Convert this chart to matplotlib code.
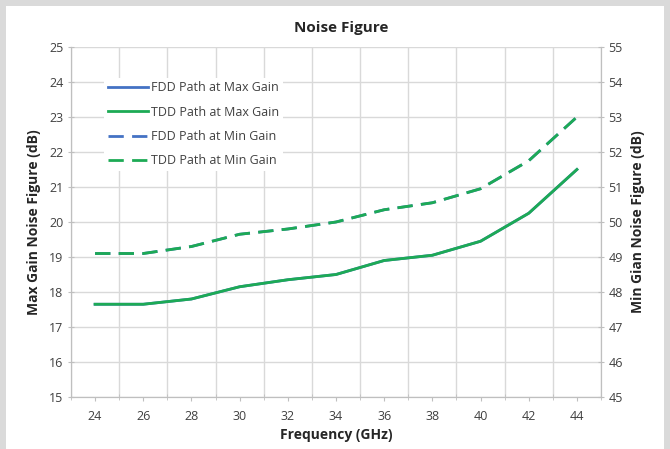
import matplotlib
matplotlib.use("Agg")
import matplotlib.pyplot as plt
from matplotlib.patches import Rectangle
import numpy as np

plt.rcParams['font.family'] = ['Open Sans', 'DejaVu Sans']

freqs = [24, 26, 28, 30, 32, 34, 36, 38, 40, 42, 44]
tdd_max = [17.65, 17.65, 17.8, 18.15, 18.35, 18.5, 18.9, 19.05, 19.45, 20.25, 21.5]
fdd_max = [17.65, 17.65, 17.8, 18.15, 18.35, 18.5, 18.9, 19.05, 19.45, 20.25, 21.5]
tdd_min = [49.1, 49.1, 49.3, 49.65, 49.8, 50.0, 50.35, 50.55, 50.95, 51.75, 53.0]
fdd_min = [49.1, 49.1, 49.3, 49.65, 49.8, 50.0, 50.35, 50.55, 50.95, 51.75, 53.0]

blue = '#4472C4'
green = '#1DAA55'
grid_c = '#D9D9D9'
txt = '#404040'

fig = plt.figure(figsize=(6.70, 4.49), dpi=100)
fig.patch.set_facecolor('#DADADA')
fig.add_artist(Rectangle((6/670, 0), 658/670, 1 - 6/449, transform=fig.transFigure,
                         facecolor='white', edgecolor='none', zorder=0))

ax = fig.add_axes([71/670, 1 - 397/449, 530/670, 350/449])
ax2 = ax.twinx()
x = np.arange(len(freqs))

dash = (0, (5.5, 3))
l1, = ax.plot(x, fdd_max, color=blue, lw=2, label='FDD Path at Max Gain', zorder=3)
l2, = ax.plot(x, tdd_max, color=green, lw=2, label='TDD Path at Max Gain', zorder=4)
l3, = ax2.plot(x, fdd_min, color=blue, lw=2, ls=dash, label='FDD Path at Min Gain', zorder=3)
l4, = ax2.plot(x, tdd_min, color=green, lw=2, ls=dash, label='TDD Path at Min Gain', zorder=4)

ax.set_xlim(-0.5, len(freqs) - 0.5)
ax.set_ylim(15, 25)
ax2.set_ylim(45, 55)
ax.set_yticks(range(15, 26))
ax2.set_yticks(range(45, 56))

ax.set_xticks(x)
ax.set_xticklabels([str(f) for f in freqs])
ax.set_xticks(np.arange(-0.5, len(freqs)), minor=True)
ax.tick_params(axis='x', which='major', length=3, color='#BFBFBF', labelsize=9, labelcolor=txt, pad=6)
ax.tick_params(axis='x', which='minor', length=4, color='#BFBFBF', direction='inout')
ax.tick_params(axis='y', length=4, color='#BFBFBF', labelsize=9, labelcolor=txt, direction='inout')
ax2.tick_params(axis='y', length=4, color='#BFBFBF', labelsize=9, labelcolor=txt, direction='inout')

ax.grid(True, which='major', axis='y', color=grid_c, lw=1)
ax.grid(True, which='minor', axis='x', color=grid_c, lw=1)
ax.set_axisbelow(True)

for a in (ax, ax2):
    for s in ['top']:
        a.spines[s].set_visible(False)
    for s in ['left', 'right', 'bottom']:
        a.spines[s].set_color('#BFBFBF')

ax.set_xlabel('Frequency (GHz)', fontsize=10, fontweight='bold', color='#262626', labelpad=4)
ax.set_ylabel('Max Gain Noise Figure (dB)', fontsize=10, fontweight='bold', color='#262626', labelpad=6)
ax2.set_ylabel('Min Gian Noise Figure (dB)', fontsize=10, fontweight='bold', color='#262626', labelpad=6)
fig.text(341/670, 1 - 28/449, 'Noise Figure', ha='center', va='center', fontsize=11,
         fontweight='bold', color='#262626')

leg = ax2.legend(handles=[l1, l2, l3, l4], loc='upper left', bbox_to_anchor=(0.05, 0.93),
                 frameon=True, fontsize=9, handlelength=3.2, labelspacing=0.9,
                 borderpad=0.3, handletextpad=0.3)
leg.get_frame().set_edgecolor('none')
leg.get_frame().set_facecolor('white')
leg.get_frame().set_alpha(1)
for t in leg.get_texts():
    t.set_color(txt)

fig.savefig('out.png', dpi=100, facecolor=fig.get_facecolor())
